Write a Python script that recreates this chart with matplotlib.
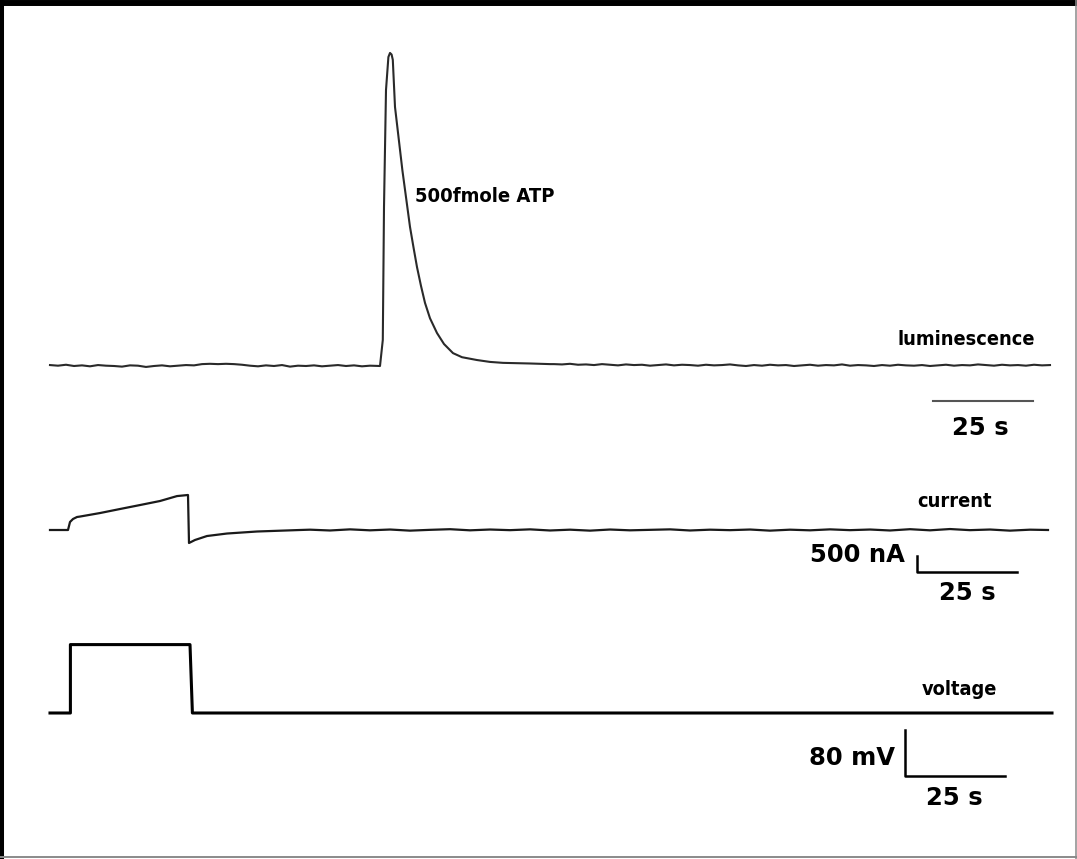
import numpy as np
import matplotlib
matplotlib.use('Agg')
import matplotlib.pyplot as plt

# luminescence trace (a.u., peak ~100), time in s
lum_pre = [0.3, 0.1, 0.4, 0.0, 0.2, -0.1, 0.3, 0.1, 0.0, -0.2,
           0.2, 0.1, -0.3, 0.0, 0.2, -0.1, 0.1, 0.3, 0.2, 0.6,
           0.7, 0.6, 0.7, 0.6, 0.4, 0.1, -0.1, 0.2, 0.0, 0.3,
           -0.2, 0.1, 0.0, 0.2, -0.1, 0.1, 0.3, 0.0, 0.2, -0.1,
           0.1, 0.0]
lum_peak_t = [82.5, 83.2, 83.5, 84.0, 84.6, 85.0, 85.4, 85.7, 86.25, 86.9,
              87.5, 88.1, 88.75, 89.4, 90.0, 90.9, 91.75, 92.75, 93.75, 95.0,
              96.75, 98.5, 100.75, 103.0, 106.75, 110.0, 113.25, 120.0, 125.0]
lum_peak_v = [0.0, 8.3, 50.6, 87.9, 98.4, 99.7, 99.2, 97.5, 82.5, 75.4,
              68.8, 62.3, 56.1, 50.0, 44.3, 37.6, 31.5, 25.5, 20.1, 15.2,
              10.5, 7.0, 4.1, 2.8, 1.9, 1.3, 1.0, 0.8, 0.6]
lum_post = [0.6, 0.5, 0.7, 0.4, 0.5, 0.3, 0.6, 0.4, 0.2, 0.5,
            0.3, 0.4, 0.1, 0.3, 0.5, 0.2, 0.4, 0.3, 0.1, 0.4,
            0.2, 0.3, 0.5, 0.2, 0.0, 0.3, 0.1, 0.4, 0.2, 0.3,
            0.0, 0.2, 0.4, 0.1, 0.3, 0.2, 0.5, 0.1, 0.3, 0.2,
            0.0, 0.3, 0.1, 0.4, 0.2, 0.1, 0.3, 0.0, 0.2, 0.4,
            0.1, 0.3, 0.2, 0.5, 0.3, 0.1, 0.4, 0.2, 0.3, 0.1,
            0.4, 0.2, 0.3]

# current trace (nA)
cur_t = [0, 4.5, 5.0, 5.75, 6.75, 7.5, 12.5, 17.5, 22.5, 27.5, 31.75, 34.5,
         34.75, 35.25, 36.25, 39.25, 44.25, 51.75, 62.5]
cur_v = [0, 0, 250, 344, 406, 420, 530, 656, 780, 906, 1060, 1094,
         -406, -375, -312, -188, -110, -47, 0]
cur_tail = [10, -15, 20, -10, 15, -20, 5, 25, -10, 15,
            -5, 20, -15, 10, -20, 15, -10, 5, 20, -15,
            10, -5, 15, -20, 10, -10, 20, -5, 15, -15,
            25, -10, 30, -5, 15, -20, 10]

# voltage command (mV)
volt_t = [0, 5.1, 5.1, 35.0, 35.6, 250.5]
volt_v = [-60, -60, 60, 60, -60, -60]

lum_t = list(np.arange(0, 84, 2)) + lum_peak_t + list(np.arange(126, 251, 2))
lum_v = lum_pre + lum_peak_v + lum_post
cur_t = cur_t + list(np.arange(65, 246, 5)) + [249.5]
cur_v = cur_v + cur_tail + [0]

W, H = 1077, 859
fig = plt.figure(figsize=(W / 100, H / 100), dpi=100)
fig.patch.set_facecolor('white')

xlim = (-50 / 4.0, (W - 50) / 4.0)


def make_axes(base_px, px_per_unit, base_val):
    ax = fig.add_axes([0, 0, 1, 1])
    ax.set_xlim(xlim)
    ax.set_ylim(base_val - (H - base_px) / px_per_unit, base_val + base_px / px_per_unit)
    ax.axis('off')
    ax.patch.set_alpha(0)
    return ax


label_font = dict(family='DejaVu Sans', fontweight='bold', fontstretch='condensed', color='black')
scale_font = dict(family='DejaVu Sans', fontweight='bold', fontsize=17.5, color='black')

# luminescence
ax1 = make_axes(366, 3.14, 0.0)
ax1.plot(lum_t, lum_v, color='#2a2a2a', lw=1.5)
ax1.text(91.25, 52.2, '500fmole ATP', fontsize=14.5, ha='left', va='baseline', **label_font)
ax1.text(246.25, 6.7, 'luminescence', fontsize=14.3, ha='right', va='baseline', **label_font)
ax1.plot([220.75, 245.75], [-11.1, -11.1], color='#555555', lw=1.5)
ax1.text(232.5, -22.0, '25 s', ha='center', va='baseline', **scale_font)

# current
ax2 = make_axes(530, 0.032, 0.0)
ax2.plot(cur_t, cur_v, color='#1a1a1a', lw=1.6)
ax2.text(235.5, 719, 'current', fontsize=14.3, ha='right', va='baseline', **label_font)
ax2.plot([216.75, 216.75, 241.75], [-812, -1312, -1312], color='black', lw=1.8)
ax2.text(213.75, -1000, '500 nA', ha='right', va='baseline', **scale_font)
ax2.text(229.25, -2187, '25 s', ha='center', va='baseline', **scale_font)

# voltage
ax3 = make_axes(713, 0.57, -60.0)
ax3.plot(volt_t, volt_v, color='black', lw=2.2)
ax3.text(236.75, -28.4, 'voltage', fontsize=14.3, ha='right', va='baseline', **label_font)
ax3.plot([213.75, 213.75, 238.75], [-89.8, -169.8, -169.8], color='black', lw=1.8)
ax3.text(211.25, -151.2, '80 mV', ha='right', va='baseline', **scale_font)
ax3.text(226, -221.4, '25 s', ha='center', va='baseline', **scale_font)

# window frame
fig.add_artist(plt.Line2D([0, 1], [1 - 3 / H, 1 - 3 / H], transform=fig.transFigure, color='black', lw=4.3))
fig.add_artist(plt.Line2D([2 / W, 2 / W], [0, 1], transform=fig.transFigure, color='black', lw=2.9))
fig.add_artist(plt.Line2D([1 - 1.5 / W, 1 - 1.5 / W], [0, 1], transform=fig.transFigure, color='#8a8a8a', lw=1.1))
fig.add_artist(plt.Line2D([0, 1], [2 / H, 2 / H], transform=fig.transFigure, color='#8a8a8a', lw=1.4))

fig.savefig('out.png', dpi=100, facecolor='white')
